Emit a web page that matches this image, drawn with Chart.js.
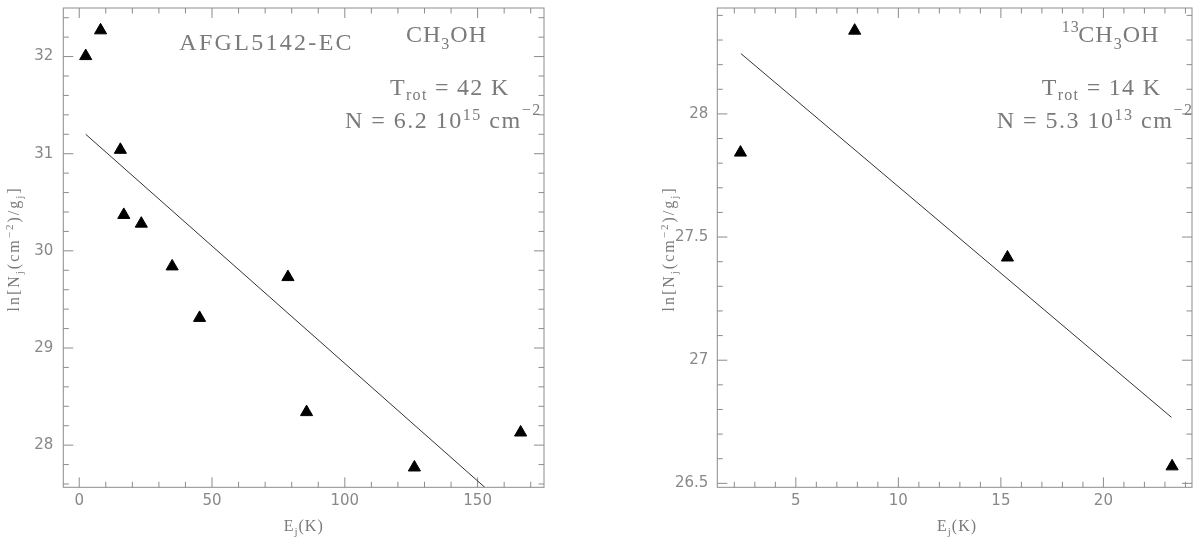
<!DOCTYPE html>
<html><head><meta charset="utf-8">
<script src="https://cdn.jsdelivr.net/npm/chart.js@4.4.1/dist/chart.umd.min.js"></script>
<style>
html,body{margin:0;padding:0;background:#fff;}
#wrap{position:relative;width:1200px;height:539px;overflow:hidden;}
canvas{position:absolute;top:0;}
#c1{left:0;} #c2{left:600px;}
</style></head><body>
<div id="wrap"><canvas id="c1" width="600" height="539"></canvas><canvas id="c2" width="600" height="539"></canvas></div>
<script>
// CH3OH rotation diagram (left)
const ch3ohE=[2.44,8.03,15.49,16.78,23.37,34.99,45.31,78.58,85.6,126.2,166.2];
const ch3ohLnN=[32.005,32.27,31.04,30.37,30.28,29.84,29.31,29.73,28.34,27.77,28.13];
const ch3ohFitE=[2.44,152.7];
const ch3ohFitLnN=[31.20,27.566];
// 13CH3OH rotation diagram (right)
const c13E=[2.30,7.87,15.32,23.35];
const c13LnN=[27.843,28.338,27.417,26.569];
const c13FitE=[2.32,23.32];
const c13FitLnN=[28.245,26.768];
// labelled ticks
const leftXTicks=[0,50,100,150];
const leftYTicks=[28,29,30,31,32];
const rightXTicks=[5,10,15,20];
const rightYTicks=[26.5,27,27.5,28];

const GREY='#7a7a7a';
const SERIF='"Liberation Serif", serif';

function isMajor(v,list){return list.some(m=>Math.abs(m-v)<1e-6);}
function lab(v,list){const m=list.find(m=>Math.abs(m-v)<1e-6);return m===undefined?'':String(m);}

// text with sub/superscripts: parts are [text] or [text,dy] (dy -> small font)
function drawRich(ctx,it){
  const big=it.size||24, small=Math.round(big*0.66);
  ctx.save();
  ctx.fillStyle=GREY;
  ctx.textBaseline='alphabetic';
  ctx.letterSpacing=(it.spacing||0)+'px';
  let w=0;
  const segs=it.parts.map(p=>{const sz=p.length>1?small:big;ctx.font=sz+'px '+SERIF;const m=ctx.measureText(p[0]).width;w+=m;return {t:p[0],sz,dy:p[1]||0,m};});
  ctx.translate(it.x,it.y);
  if(it.rot) ctx.rotate(it.rot);
  let cx=it.center?-w/2:0;
  const base=it.center?big*0.33:0;
  segs.forEach(s=>{ctx.font=s.sz+'px '+SERIF;ctx.fillText(s.t,cx,base+s.dy);cx+=s.m;});
  ctx.restore();
}

function makeChart(id,xs,ys,fx,fy,s){
  const frame={id:'frame',beforeDatasetsDraw(chart){
    const {ctx,chartArea:a,scales:{x,y}}=chart;
    ctx.save();ctx.strokeStyle='#8c8c8c';ctx.lineWidth=1;
    ctx.strokeRect(a.left,a.top,a.right-a.left,a.bottom-a.top);
    ctx.beginPath();
    x.ticks.forEach(t=>{const p=x.getPixelForValue(t.value);const L=isMajor(t.value,s.xMajor)?10:5.5;
      ctx.moveTo(p,a.bottom);ctx.lineTo(p,a.bottom-L);ctx.moveTo(p,a.top);ctx.lineTo(p,a.top+L);});
    y.ticks.forEach(t=>{const p=y.getPixelForValue(t.value);const L=isMajor(t.value,s.yMajor)?10:5.5;
      ctx.moveTo(a.left,p);ctx.lineTo(a.left+L,p);ctx.moveTo(a.right,p);ctx.lineTo(a.right-L,p);});
    ctx.stroke();ctx.restore();
  }};
  const notes={id:'notes',afterDraw(chart){s.notes.forEach(it=>drawRich(chart.ctx,it));}};
  const tickFont={family:'"DejaVu Sans", sans-serif',size:15};
  return new Chart(document.getElementById(id),{
    type:'scatter',
    data:{datasets:[
      {data:fx.map((x,i)=>({x,y:fy[i]})),showLine:true,borderColor:'#333',borderWidth:1,pointRadius:0,fill:false},
      {data:xs.map((x,i)=>({x,y:ys[i]})),pointStyle:'triangle',pointRadius:7,pointBackgroundColor:'#000',pointBorderColor:'#000',pointBorderWidth:1}
    ]},
    options:{responsive:false,animation:false,events:[],
      layout:{padding:{left:0,top:6.7,right:s.padRight,bottom:0}},
      plugins:{legend:{display:false},tooltip:{enabled:false}},
      scales:{
        x:{type:'linear',min:s.xMin,max:s.xMax,grid:{display:false,drawTicks:false},border:{display:false},
          ticks:{stepSize:s.xStep,autoSkip:false,maxRotation:0,includeBounds:false,padding:5,color:'#888',font:tickFont,callback:v=>lab(v,s.xMajor)},
          afterFit:sc=>{sc.height=51.7;sc.paddingLeft=0;sc.paddingRight=0;}},
        y:{type:'linear',min:s.yMin,max:s.yMax,grid:{display:false,drawTicks:false},border:{display:false},
          ticks:{stepSize:s.yStep,autoSkip:false,includeBounds:false,padding:s.yPad,color:'#888',font:tickFont,callback:v=>lab(v,s.yMajor)},
          afterFit:sc=>{sc.width=s.yWidth;sc.paddingTop=0;sc.paddingBottom=0;}}
      }
    },
    plugins:[frame,notes]
  });
}

const yTitle=x=>({x,y:249,size:16,spacing:2,center:true,rot:-Math.PI/2,
  parts:[['ln[N'],['j',4],['(cm'],['\u22122',-6],[')/g'],['j',4],[']']]});
const xTitle=x=>({x,y:526,size:16,spacing:1,center:true,parts:[['E'],['j',4],['(K)']]});

makeChart('c1',ch3ohE,ch3ohLnN,ch3ohFitE,ch3ohFitLnN,{
  xMin:-6,xMax:175,xStep:10,xMajor:leftXTicks,
  yMin:27.566,yMax:32.5,yStep:0.2,yMajor:leftYTicks,
  yWidth:63.3,yPad:10,padRight:56,
  notes:[
    {x:179.3,y:50,spacing:2.3,parts:[['AFGL5142-EC']]},
    {x:406,y:42.3,spacing:1,parts:[['CH'],['3',6.7],['OH']]},
    {x:390,y:95,spacing:1.3,parts:[['T'],['rot',5],[' = 42 K']]},
    {x:345,y:128.3,spacing:1.5,parts:[['N = 6.2 10'],['15',-8.3],[' cm'],['\u22122',-13.3]]},
    yTitle(13.3),xTitle(303.7)
  ]
});

makeChart('c2',c13E,c13LnN,c13FitE,c13FitLnN,{
  xMin:1.17,xMax:24.32,xStep:1,xMajor:rightXTicks,
  yMin:26.484,yMax:28.43,yStep:0.1,yMajor:rightYTicks,
  yWidth:117.3,yPad:9,padRight:3.3,
  notes:[
    {x:461.7,y:32.3,spacing:1,parts:[['13',0]]},
    {x:478.3,y:42.3,spacing:1,parts:[['CH'],['3',6.7],['OH']]},
    {x:441.7,y:95,spacing:1.3,parts:[['T'],['rot',5],[' = 14 K']]},
    {x:396.7,y:128.3,spacing:1.5,parts:[['N = 5.3 10'],['13',-8.3],[' cm'],['\u22122',-13.3]]},
    yTitle(68.4),xTitle(357)
  ]
});
</script>
</body></html>
